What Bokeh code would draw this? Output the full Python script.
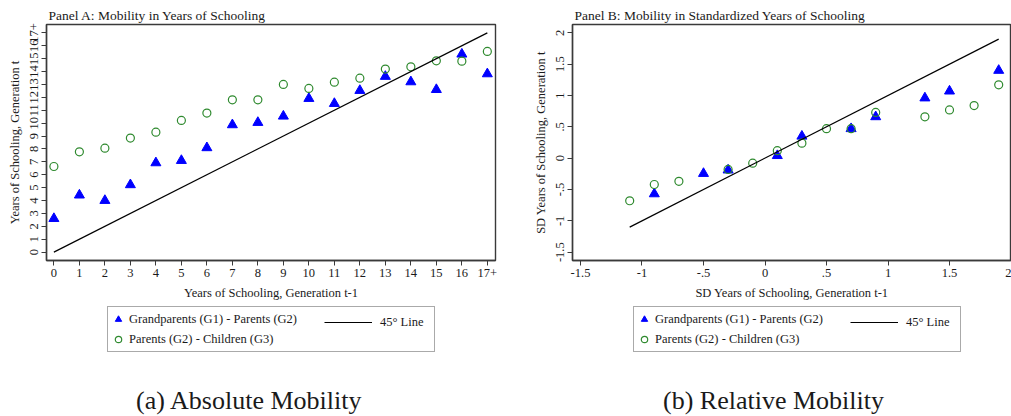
from bokeh.plotting import figure
from bokeh.models import Legend, LegendItem, Label, FixedTicker, Range1d, Title
from bokeh.layouts import row, column
from bokeh.embed import file_html
from bokeh.resources import INLINE

FONT = "Liberation Serif"
BLUE = "#0000ff"
GREEN = "#2f8a2f"
FRAME = "#3a3a3a"
TXT = "#1a1a1a"

# ---------------- Panel A data ----------------
a_x = list(range(18))
a_ticks = list(range(18))
a_tick_labels = [str(i) for i in range(17)] + ["17+"]
a_g1g2 = [2.6, 4.42, 4.0, 5.22, 6.92, 7.1, 8.09, 9.87, 10.05, 10.54,
          11.91, 11.52, 12.53, 13.62, 13.2, 12.6, 15.35, 13.82]
a_g2g3 = [6.64, 7.78, 8.06, 8.84, 9.30, 10.21, 10.78, 11.81, 11.81, 13.0,
          12.69, 13.18, 13.49, 14.19, 14.37, 14.83, 14.81, 15.56]
a_line = [0, 17]

# ---------------- Panel B data ----------------
b_x_g1g2 = [-0.9, -0.5, -0.3, 0.1, 0.3, 0.7, 0.9, 1.3, 1.5, 1.9]
b_g1g2 = [-0.57, -0.245, -0.19, 0.04, 0.35, 0.47, 0.66, 0.96, 1.07, 1.40]
b_x_g2g3 = [-1.1, -0.9, -0.7, -0.3, -0.1, 0.1, 0.3, 0.5, 0.7, 0.9, 1.3, 1.5, 1.7, 1.9]
b_g2g3 = [-0.68, -0.42, -0.37, -0.18, -0.08, 0.12, 0.24, 0.47, 0.47, 0.73,
          0.66, 0.77, 0.84, 1.17]
b_line = [-1.1, 1.9]
b_ticks = [-1.5, -1, -0.5, 0, 0.5, 1, 1.5, 2]
b_tick_labels = ["-1.5", "-1", "-.5", "0", ".5", "1", "1.5", "2"]

labels_legend = ["Grandparents (G1) - Parents (G2)", "Parents (G2) - Children (G3)", "45° Line"]

TOP_H = 304
BOT_H = 416 - TOP_H


def make_panel(width, xr, yr, frame_left, min_right, ticks, tick_labels,
               xs1, ys1, xs2, ys2, line_xy, title, xlabel, ylabel):
    p = figure(width=width, height=TOP_H, x_range=Range1d(*xr), y_range=Range1d(*yr),
               output_backend="svg", toolbar_location=None, title=None,
               min_border_left=frame_left, min_border_right=min_right,
               min_border_top=24, min_border_bottom=TOP_H - 260)
    p.grid.visible = False
    p.outline_line_color = FRAME
    p.outline_line_width = 1.4
    p.background_fill_color = "white"
    p.border_fill_color = "white"

    t = Title(text=title, text_font=FONT, text_font_size="13.5px", text_color=TXT,
              text_font_style="normal", align="left", offset=2, standoff=3)
    p.add_layout(t, "above")

    for ax in (p.xaxis[0], p.yaxis[0]):
        ax.ticker = FixedTicker(ticks=ticks)
        ax.major_label_overrides = {t_: l for t_, l in zip(ticks, tick_labels)}
        ax.major_tick_out = 5
        ax.major_tick_in = 0
        ax.minor_tick_line_color = None
        ax.major_tick_line_color = FRAME
        ax.axis_line_color = FRAME
        ax.axis_line_width = 1.4
        ax.major_label_text_font = FONT
        ax.major_label_text_font_size = "12.5px"
        ax.major_label_text_color = TXT
        ax.axis_label_text_font = FONT
        ax.axis_label_text_font_size = "12.5px"
        ax.axis_label_text_font_style = "normal"
        ax.axis_label_text_color = TXT
        ax.major_label_standoff = 3
        ax.axis_label_standoff = 6
    p.xaxis.axis_label = xlabel
    p.yaxis.axis_label = ylabel
    p.yaxis.major_label_orientation = "vertical"

    p.scatter(xs1, ys1, marker="triangle", size=10, fill_color=BLUE, line_color=BLUE)
    p.scatter(xs2, ys2, marker="circle", size=8, fill_color=None,
              line_color=GREEN, line_width=1.2)
    p.line(line_xy, line_xy, line_color="black", line_width=1.2)
    return p


def make_bottom(width, leg_x, line_x, cap_x, caption):
    q = figure(width=width, height=BOT_H, x_range=Range1d(0, width), y_range=Range1d(0, BOT_H),
               output_backend="svg", toolbar_location=None, title=None,
               min_border=0, min_border_left=0, min_border_right=0,
               min_border_top=0, min_border_bottom=0)
    q.axis.visible = False
    q.grid.visible = False
    q.outline_line_color = None
    q.background_fill_color = "white"
    q.border_fill_color = "white"
    # legend proxies (single point placed outside the visible range)
    r_tri = q.scatter([-1000], [-1000], marker="triangle", size=10,
                      fill_color=BLUE, line_color=BLUE)
    r_circ = q.scatter([-1000], [-1000], marker="circle", size=8, fill_color=None,
                       line_color=GREEN, line_width=1.2)
    r_line = q.line([-1000, -999], [-1000, -999], line_color="black", line_width=1.2)

    leg1 = Legend(items=[LegendItem(label=labels_legend[0], renderers=[r_tri]),
                         LegendItem(label=labels_legend[1], renderers=[r_circ])],
                  location=(leg_x, BOT_H - 48), padding=2, margin=0, spacing=0,
                  glyph_width=16, glyph_height=20, label_height=20,
                  label_width=303, label_standoff=3,
                  label_text_font=FONT, label_text_font_size="12.5px",
                  label_text_color=TXT,
                  border_line_color="#555555", border_line_width=1.2,
                  background_fill_color="white", background_fill_alpha=1.0)
    leg2 = Legend(items=[LegendItem(label=labels_legend[2], renderers=[r_line])],
                  location=(line_x - 2, BOT_H - 28), padding=2, margin=0, spacing=0,
                  glyph_width=48, glyph_height=20, label_height=20,
                  label_standoff=8,
                  label_text_font=FONT, label_text_font_size="12.5px",
                  label_text_color=TXT,
                  border_line_color=None, background_fill_alpha=0.0)
    q.add_layout(leg1)
    q.add_layout(leg2)
    q.add_layout(Label(x=cap_x, y=BOT_H - 96, text=caption,
                       text_font=FONT, text_font_size="26px", text_color=TXT,
                       text_baseline="middle", text_align="center"))
    return q


pA = make_panel(505, (-0.29, 17.32), (-0.65, 17.65), 46, 10, a_ticks, a_tick_labels,
                a_x, a_g1g2, a_x, a_g2g3, a_line,
                "Panel A: Mobility in Years of Schooling",
                "Years of Schooling, Generation t-1",
                "Years of Schooling, Generation t")

pB = make_panel(506, (-1.565, 2.004), (-1.633, 2.133), 67, 0, b_ticks, b_tick_labels,
                b_x_g1g2, b_g1g2, b_x_g2g3, b_g2g3, b_line,
                "Panel B: Mobility in Standardized Years of Schooling",
                "SD Years of Schooling, Generation t-1",
                "SD Years of Schooling, Generation t")

bA = make_bottom(505, 107, 326, 249, "(a) Absolute Mobility")
bB = make_bottom(506, 128, 347, 268, "(b) Relative Mobility")

layout = column(row(pA, pB), row(bA, bB))
open("out.html", "w").write(file_html(layout, INLINE))
